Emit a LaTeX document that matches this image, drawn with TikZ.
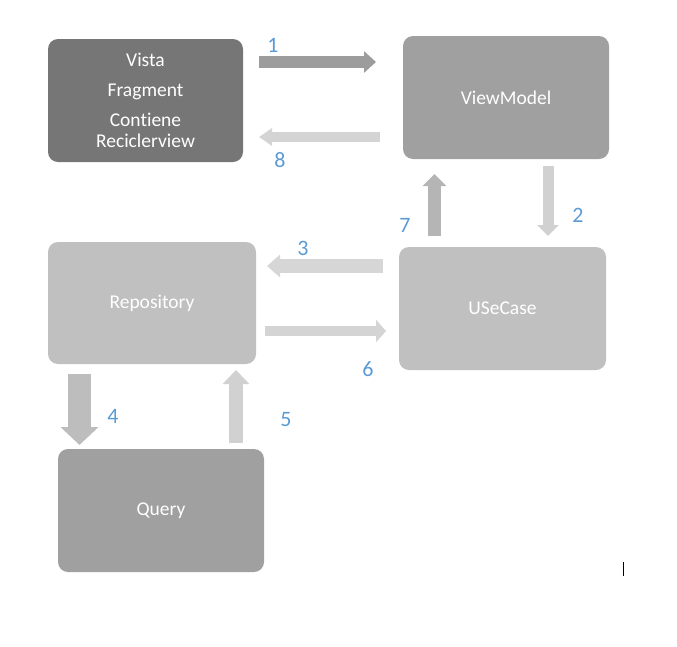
\documentclass[tikz,border=0pt]{standalone}
\usepackage{fontspec}
\setmainfont{Carlito}[Ligatures=NoCommon]
\usetikzlibrary{arrows.meta}
\definecolor{cVista}{HTML}{767676}
\definecolor{cMid}{HTML}{A0A0A0}
\definecolor{cLight}{HTML}{C0C0C0}
\definecolor{cNum}{HTML}{5B9BD5}
\tikzset{
  box/.style={rounded corners=10pt, inner sep=0pt, text=white, align=center,
    font=\fontsize{19.5}{21.5}\selectfont},
  blk/.style n args={3}{line width=#1, -{Triangle[width=#2,length=#3]}},
  num/.style={text=cNum, font=\fontsize{22}{22}\selectfont, inner sep=0pt}
}
\begin{document}
\begin{tikzpicture}[x=1pt,y=-1pt]
\useasboundingbox (0,0) rectangle (677,646);
\node[box, fill=cVista, minimum width=195pt, minimum height=123pt] (vista) at (145.5,100.5)
  {Vista\\[8.5pt]Fragment\\[8.5pt]Contiene\\Reciclerview};
\node[box, fill=cMid, minimum width=206pt, minimum height=123pt] (viewmodel) at (506,97.5) {\raisebox{-1pt}{ViewModel}};
\node[box, fill=cLight, minimum width=208pt, minimum height=122pt] (repo) at (152,303) {\raisebox{-2pt}{Repository}};
\node[box, fill=cLight, minimum width=207pt, minimum height=123pt] (usecase) at (502.5,308.5) {\raisebox{-1pt}{USeCase}};
\node[box, fill=cMid, minimum width=206pt, minimum height=123pt] (query) at (161,510.5) {\raisebox{-2pt}{Query}};

% arrow end points
\coordinate (a1s) at (259,62);   \coordinate (a1e) at (376,62);
\coordinate (a8s) at (380,137);  \coordinate (a8e) at (259,137);
\coordinate (a2s) at (548,166);  \coordinate (a2e) at (548,236);
\coordinate (a7s) at (434.5,236);\coordinate (a7e) at (434.5,174);
\coordinate (a3s) at (383,266);  \coordinate (a3e) at (267,266);
\coordinate (a6s) at (265,331);  \coordinate (a6e) at (386,331);
\coordinate (a4s) at (79.5,374); \coordinate (a4e) at (79.5,445);
\coordinate (a5s) at (236,443);  \coordinate (a5e) at (236,370);

\draw[blk={12pt}{21pt}{12pt}, draw=black!39] (a1s) -- (a1e);
\draw[blk={10pt}{17pt}{13pt}, draw=black!17] (a8s) -- (a8e);
\draw[blk={11pt}{21pt}{11pt}, draw=black!18] (a2s) -- (a2e);
\draw[blk={13pt}{23pt}{12pt}, draw=black!29] (a7s) -- (a7e);
\draw[blk={14pt}{22pt}{13pt}, draw=black!16] (a3s) -- (a3e);
\draw[blk={10pt}{22pt}{10pt}, draw=black!17] (a6s) -- (a6e);
\draw[blk={23pt}{37pt}{18pt}, draw=black!26] (a4s) -- (a4e);
\draw[blk={14pt}{26pt}{14pt}, draw=black!18] (a5s) -- (a5e);

\node[num] (n1) at (273,45) {1};
\node[num] (n8) at (280,160) {8};
\node[num] (n2) at (578,215) {2};
\node[num] (n7) at (405,225) {7};
\node[num] (n3) at (303,248) {3};
\node[num] (n6) at (368,369) {6};
\node[num] (n4) at (113,416) {4};
\node[num] (n5) at (286,420) {5};

\coordinate (cur1) at (623.5,562);
\coordinate (cur2) at (623.5,576);
\draw[line width=1pt] (cur1) -- (cur2);
\end{tikzpicture}
\end{document}
